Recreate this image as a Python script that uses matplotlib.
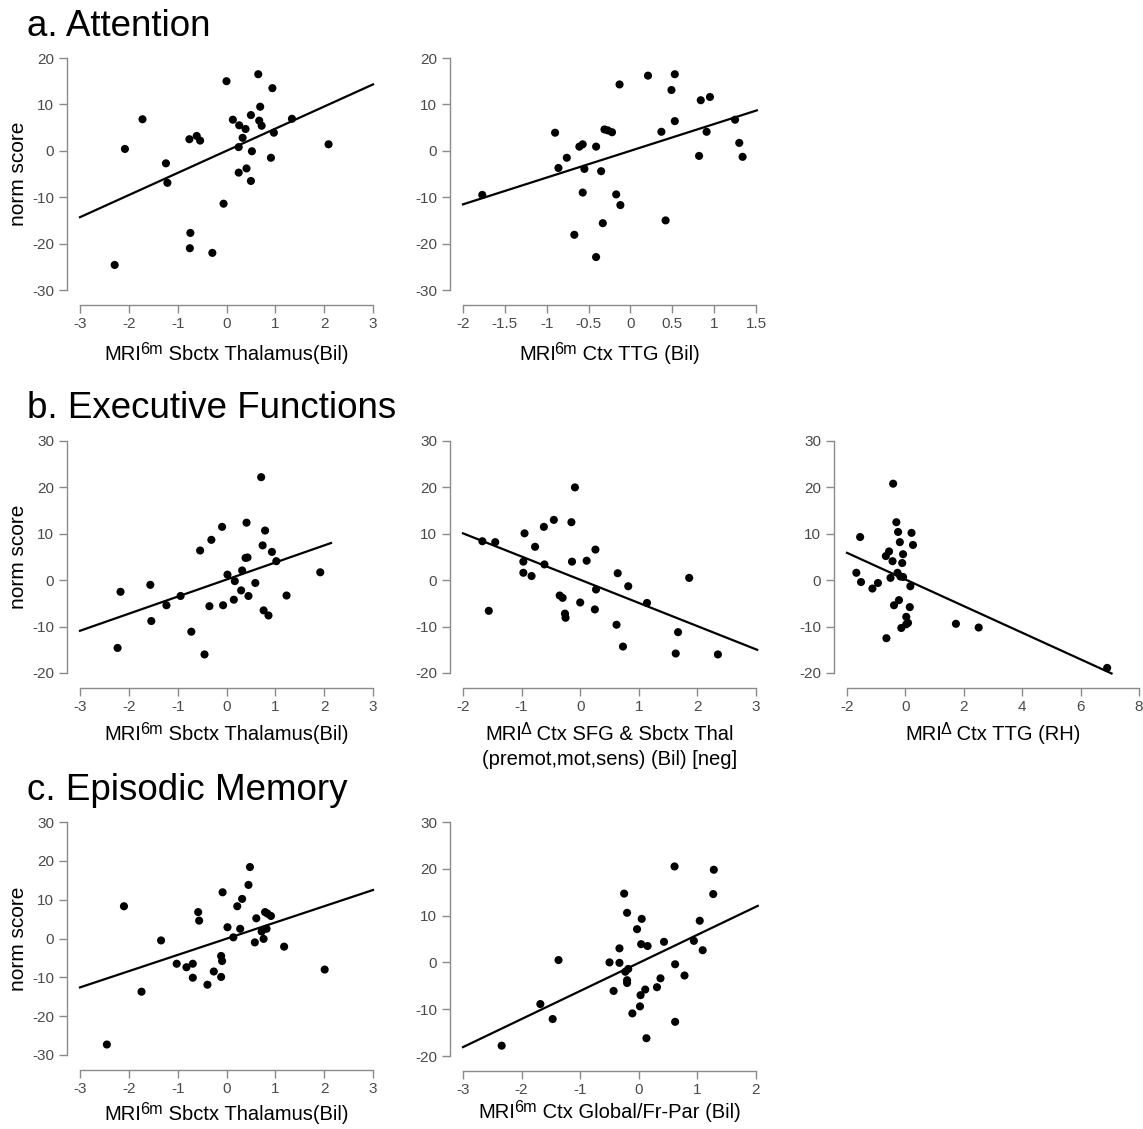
import matplotlib
matplotlib.use("Agg")
import numpy as np
import matplotlib.pyplot as plt

plt.rcParams['font.family'] = ['Liberation Sans', 'DejaVu Sans']

# === Data ===
# a. Attention, thalamus
att_thal_x = [-2.29, -2.08, -1.72, -1.24, -1.21, -0.76, -0.61, -0.54, -0.74, -0.75, -0.29,
              -0.06, 0.00, 0.13, 0.26, 0.39, 0.33, 0.25, 0.25, 0.41, 0.50, 0.52, 0.50,
              0.65, 0.69, 0.67, 0.72, 0.94, 0.97, 0.91, 1.34, 2.09]
att_thal_y = [-24.6, 0.4, 6.8, -2.7, -6.9, 2.5, 3.2, 2.2, -17.7, -21.0, -22.0,
              -11.4, 15.0, 6.7, 5.5, 4.7, 2.8, 0.8, -4.7, -3.8, 7.7, -0.1, -6.5,
              16.5, 9.5, 6.5, 5.4, 13.5, 3.9, -1.5, 6.9, 1.4]
att_thal_fit = (0.0, 4.77)

# a. Attention, TTG
att_ttg_x = [-1.77, -0.90, -0.86, -0.76, -0.61, -0.57, -0.55, -0.57, -0.67, -0.41, -0.41,
             -0.35, -0.33, -0.31, -0.27, -0.22, -0.17, -0.12, -0.13, 0.21, 0.37, 0.42,
             0.49, 0.53, 0.53, 0.82, 0.84, 0.95, 0.91, 1.25, 1.30, 1.34]
att_ttg_y = [-9.5, 3.9, -3.7, -1.5, 0.9, 1.4, -3.9, -9.0, -18.1, 0.9, -22.9,
             -4.4, -15.6, 4.6, 4.4, 4.0, -9.4, -11.7, 14.3, 16.2, 4.1, -15.0,
             13.1, 16.5, 6.4, -1.1, 10.9, 11.6, 4.1, 6.7, 1.7, -1.3]
att_ttg_fit = (0.0, 5.77)

# b. Executive functions, thalamus
ef_thal_x = [-2.23, -2.17, -1.56, -1.54, -1.23, -0.94, -0.72, -0.54, -0.45, -0.35, -0.31,
             -0.09, -0.07, 0.02, 0.17, 0.15, 0.32, 0.30, 0.41, 0.39, 0.43, 0.45, 0.59,
             0.71, 0.74, 0.79, 0.76, 0.86, 0.93, 1.02, 1.23, 1.92]
ef_thal_y = [-14.6, -2.5, -1.0, -8.8, -5.4, -3.4, -11.1, 6.4, -16.0, -5.6, 8.7,
             11.5, -5.4, 1.2, -0.2, -4.2, 2.1, -2.2, 12.4, 4.8, 4.9, -3.4, -0.6,
             22.2, 7.5, 10.7, -6.5, -7.6, 6.1, 4.1, -3.3, 1.7]
ef_thal_fit = (0.14, 3.68)

# b. Executive functions, SFG & thalamus change
ef_sfg_x = [-1.67, -1.45, -1.56, -0.95, -0.97, -0.97, -0.83, -0.77, -0.62, -0.61, -0.45,
            -0.35, -0.30, -0.26, -0.25, -0.15, -0.14, -0.09, 0.00, 0.11, 0.26, 0.27,
            0.25, 0.62, 0.64, 0.73, 0.82, 1.14, 1.63, 1.67, 1.86, 2.35]
ef_sfg_y = [8.4, 8.2, -6.6, 10.1, 4.0, 1.6, 0.9, 7.2, 11.5, 3.4, 13.0,
            -3.3, -3.8, -7.2, -8.1, 12.5, 4.0, 20.0, -4.8, 4.2, 6.6, -2.0,
            -6.3, -9.6, 1.5, -14.3, -1.3, -4.9, -15.8, -11.2, 0.5, -16.0]
ef_sfg_fit = (0.1, -5.0)

# b. Executive functions, TTG change
ef_ttg_x = [-1.68, -1.55, -1.52, -1.13, -0.94, -0.67, -0.56, -0.65, -0.51, -0.44, -0.42,
            -0.39, -0.31, -0.25, -0.27, -0.22, -0.19, -0.14, -0.11, -0.08, -0.17, -0.08,
            0.03, 0.09, 0.15, 0.17, 0.21, 0.26, 0.03, 1.73, 2.51, 6.91]
ef_ttg_y = [1.6, 9.3, -0.4, -1.8, -0.6, 5.2, 6.2, -12.5, 0.5, 4.1, 20.8,
            -5.4, 12.5, 10.4, 1.6, -4.3, 8.2, -10.3, 3.7, 5.6, 0.8, 0.7,
            -7.9, -9.2, -5.8, -1.3, 10.2, 7.6, -9.5, -9.4, -10.2, -18.9]
ef_ttg_fit = (0.16, -2.87)

# c. Episodic memory, thalamus
em_thal_x = [-2.45, -2.10, -1.74, -1.34, -1.02, -0.82, -0.69, -0.69, -0.58, -0.56, -0.39,
             -0.26, -0.11, -0.09, -0.11, -0.08, 0.02, 0.14, 0.22, 0.28, 0.32, 0.45,
             0.48, 0.58, 0.61, 0.72, 0.76, 0.79, 0.84, 0.91, 0.82, 1.18, 2.01]
em_thal_y = [-27.3, 8.3, -13.7, -0.5, -6.5, -7.4, -6.5, -10.1, 6.8, 4.6, -11.9,
             -8.5, -4.5, -5.8, -9.9, 11.9, 2.9, 0.3, 8.3, 2.5, 10.2, 13.8,
             18.4, -1.0, 5.2, 1.8, -0.1, 6.8, 6.4, 5.8, 2.5, -2.1, -8.0]
em_thal_fit = (-0.05, 4.18)

# c. Episodic memory, global / fronto-parietal
em_glob_x = [-2.34, -1.68, -1.47, -1.37, -0.50, -0.43, -0.33, -0.33, -0.25, -0.20, -0.23,
             -0.20, -0.20, -0.18, -0.11, -0.03, 0.05, 0.04, 0.15, 0.03, 0.11, 0.02,
             0.13, 0.31, 0.37, 0.43, 0.61, 0.62, 0.62, 0.78, 0.94, 1.04, 1.09, 1.28, 1.27]
em_glob_y = [-17.8, -8.9, -12.1, 0.5, 0.0, -6.1, 3.0, -0.1, 14.7, 10.6, -2.0,
             -3.8, -4.4, -1.4, -10.9, 7.1, 9.3, 3.9, 3.5, -7.0, -5.8, -9.4,
             -16.2, -5.3, -3.4, 4.4, 20.5, -0.4, -12.7, -2.8, 4.6, 8.9, 2.6, 19.8, 14.6]
em_glob_fit = (-0.1, 6.0)

# x label pieces: superscript, rest of line 1, optional line 2
lab_a1 = ('6m', ' Sbctx Thalamus(Bil)', None)
lab_a2 = ('6m', ' Ctx TTG (Bil)', None)
lab_b1 = ('6m', ' Sbctx Thalamus(Bil)', None)
lab_b2 = ('\u0394', ' Ctx SFG & Sbctx Thal', '(premot,mot,sens) (Bil) [neg]')
lab_b3 = ('\u0394', ' Ctx TTG (RH)', None)
lab_c1 = ('6m', ' Sbctx Thalamus(Bil)', None)
lab_c2 = ('6m', ' Ctx Global/Fr-Par (Bil)', None)

# each panel: x, y, fit, line range, x ticks, y ticks, label, box in pixels (l, r, top, bottom), label drop, y label
panels = [
    (att_thal_x, att_thal_y, att_thal_fit, (-3, 3), np.arange(-3, 4, 1), np.arange(-30, 21, 10),
     lab_a1, (80, 373, 58, 290), 70, True),
    (att_ttg_x, att_ttg_y, att_ttg_fit, (-2, 1.51), np.arange(-2, 1.6, 0.5), np.arange(-30, 21, 10),
     lab_a2, (463, 756, 58, 290), 70, False),
    (ef_thal_x, ef_thal_y, ef_thal_fit, (-3, 2.14), np.arange(-3, 4, 1), np.arange(-20, 31, 10),
     lab_b1, (80, 373, 441, 673), 67, True),
    (ef_sfg_x, ef_sfg_y, ef_sfg_fit, (-2, 3.02), np.arange(-2, 4, 1), np.arange(-20, 31, 10),
     lab_b2, (463, 756, 441, 673), 67, False),
    (ef_ttg_x, ef_ttg_y, ef_ttg_fit, (-2, 7.06), np.arange(-2, 9, 2), np.arange(-20, 31, 10),
     lab_b3, (847, 1139, 441, 673), 67, False),
    (em_thal_x, em_thal_y, em_thal_fit, (-3, 3), np.arange(-3, 4, 1), np.arange(-30, 31, 10),
     lab_c1, (80, 373, 822, 1055), 65, True),
    (em_glob_x, em_glob_y, em_glob_fit, (-3, 2.03), np.arange(-3, 3, 1), np.arange(-20, 31, 10),
     lab_c2, (463, 756, 822, 1056), 62, False),
]

W, H = 1143, 1129
fig = plt.figure(figsize=(W / 100, H / 100), dpi=100)
axis_grey = '#8a8a8a'
lab_size = 14.5
label_groups = []

for x, y, (b0, b1), (lx0, lx1), xt, yt, (sup, rest, line2), (px0, px1, py0, py1), drop, ylab in panels:
    ax = fig.add_axes([px0 / W, 1 - py1 / H, (px1 - px0) / W, (py1 - py0) / H])
    ax.set_xlim(xt[0], xt[-1])
    ax.set_ylim(yt[0], yt[-1])
    ax.set_xticks(xt)
    ax.set_yticks(yt)
    ax.set_xticklabels([f'{v:g}' for v in xt])
    ax.set_yticklabels([f'{v:g}' for v in yt])

    ax.scatter(x, y, s=34, color='black', edgecolors='none', zorder=3, clip_on=False)
    xx = np.array([lx0, lx1])
    ax.plot(xx, b0 + b1 * xx, color='black', lw=1.6, clip_on=False, zorder=2)

    for side in ['top', 'right']:
        ax.spines[side].set_visible(False)
    ax.spines['left'].set_position(('outward', 9.5))
    ax.spines['bottom'].set_position(('outward', 10.5))
    for side in ['left', 'bottom']:
        ax.spines[side].set_color(axis_grey)
        ax.spines[side].set_linewidth(1.0)
    ax.tick_params(colors=axis_grey, length=5.5, width=1.0, labelsize=11, pad=3.5,
                   labelcolor='#4a4a4a')

    # x label: "MRI" + raised superscript + rest, centred later
    t1 = ax.annotate('MRI', xy=(0.5, 0), xycoords='axes fraction', xytext=(0, -drop),
                     textcoords='offset pixels', ha='left', va='baseline', fontsize=lab_size)
    t2 = ax.annotate(sup, xy=(1, 0), xycoords=t1, xytext=(-1.5, 6.5),
                     textcoords='offset pixels', ha='left', va='bottom', fontsize=lab_size * 0.8)
    t3 = ax.annotate(rest, xy=(1, 0), xycoords=(t2, t1), xytext=(0, 0),
                     textcoords='offset pixels', ha='left', va='bottom', fontsize=lab_size)
    label_groups.append((t1, t3, drop))
    if line2:
        ax.annotate(line2, xy=(0.5, 0), xycoords='axes fraction', xytext=(0, -drop - 25),
                    textcoords='offset pixels', ha='center', va='baseline', fontsize=lab_size)
    if ylab:
        ax.annotate('norm score', xy=(0, 0.5), xycoords='axes fraction', xytext=(-61, 0),
                    textcoords='offset pixels', ha='center', va='center', rotation=90,
                    fontsize=15)

# === Row titles ===
for txt, base in [('a. Attention', 36), ('b. Executive Functions', 418), ('c. Episodic Memory', 800)]:
    fig.text(27 / W, 1 - base / H, txt, fontsize=26.5, ha='left', va='baseline')

# centre the composed x labels under their axes
fig.canvas.draw()
renderer = fig.canvas.get_renderer()
for t1, t3, drop in label_groups:
    width = t3.get_window_extent(renderer).x1 - t1.get_window_extent(renderer).x0
    t1.xyann = (-width / 2, -drop)

fig.savefig('out.png', dpi=100)
